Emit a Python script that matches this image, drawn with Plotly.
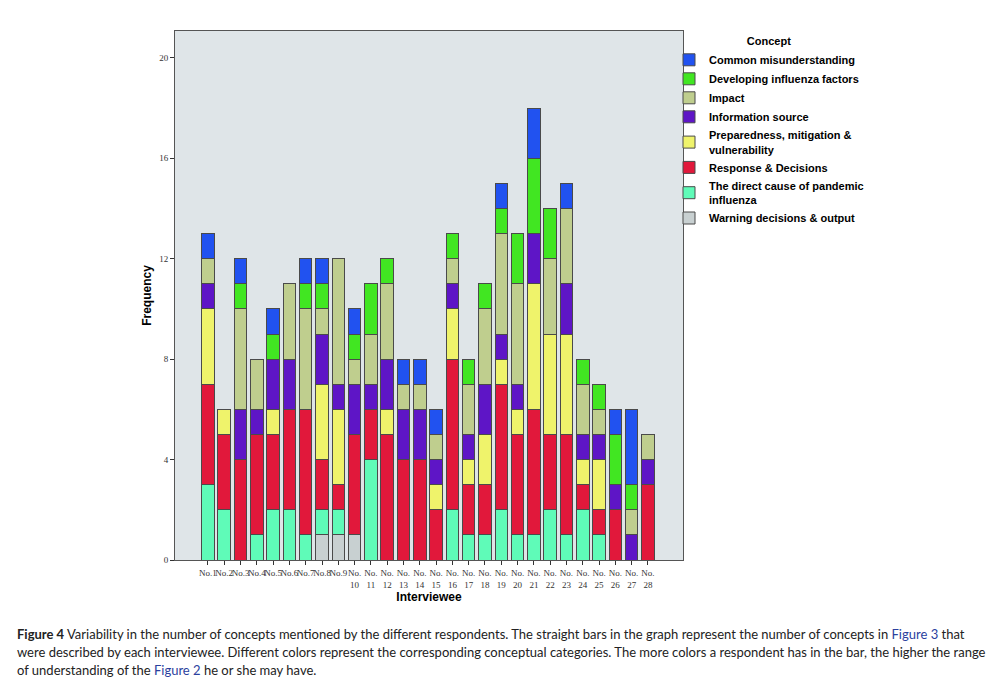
import plotly.graph_objects as go

interviewees = [f"No.{i}" for i in range(1, 29)]
tick_labels = ["No.1", "No.2", "No.3", "No.4", "No.5", "No.6", "No.7", "No.8", "No.9",
               "No.<br>10", "No.<br>11", "No.<br>12", "No.<br>13", "No.<br>14", "No.<br>15",
               "No.<br>16", "No.<br>17", "No.<br>18", "No.<br>19", "No.<br>20", "No.<br>21",
               "No.<br>22", "No.<br>23", "No.<br>24", "No.<br>25", "No.<br>26", "No.<br>27",
               "No.<br>28"]

# stacked from bottom to top
warning_decisions = [0, 0, 0, 0, 0, 0, 0, 1, 1, 1, 0, 0, 0, 0, 0, 0, 0, 0, 0, 0, 0, 0, 0, 0, 0, 0, 0, 0]
direct_cause = [3, 2, 0, 1, 2, 2, 1, 1, 1, 0, 4, 0, 0, 0, 0, 2, 1, 1, 2, 1, 1, 2, 1, 2, 1, 0, 0, 0]
response_decisions = [4, 3, 4, 4, 3, 4, 5, 2, 1, 4, 2, 5, 4, 4, 2, 6, 2, 2, 5, 4, 5, 3, 4, 1, 1, 2, 0, 3]
preparedness = [3, 1, 0, 0, 1, 0, 0, 3, 3, 0, 0, 1, 0, 0, 1, 2, 1, 2, 1, 1, 5, 4, 4, 1, 2, 0, 0, 0]
information_source = [1, 0, 2, 1, 2, 2, 0, 2, 1, 2, 1, 2, 2, 2, 1, 1, 1, 2, 1, 1, 2, 0, 2, 1, 1, 1, 1, 1]
impact = [1, 0, 4, 2, 0, 3, 4, 1, 5, 1, 2, 3, 1, 1, 1, 1, 2, 3, 4, 4, 0, 3, 3, 2, 1, 0, 1, 1]
developing_factors = [0, 0, 1, 0, 1, 0, 1, 1, 0, 1, 2, 1, 0, 0, 0, 1, 1, 1, 1, 2, 3, 2, 0, 1, 1, 2, 1, 0]
common_misunderstanding = [1, 0, 1, 0, 1, 0, 1, 1, 0, 1, 0, 0, 1, 1, 1, 0, 0, 0, 1, 0, 2, 0, 1, 0, 0, 1, 3, 0]

series_names = ["Warning decisions & output",
                "The direct cause of pandemic<br>influenza",
                "Response & Decisions",
                "Preparedness, mitigation &<br>vulnerability",
                "Information source",
                "Impact",
                "Developing influenza factors",
                "Common misunderstanding"]
series_values = [warning_decisions, direct_cause, response_decisions, preparedness,
                 information_source, impact, developing_factors, common_misunderstanding]
series_colors = ["#c8d0d1", "#5ffbb8", "#e1183b", "#eff36b",
                 "#5e15c6", "#bfce8e", "#41e622", "#2152f0"]

fig = go.Figure()
for name, vals, col in zip(series_names, series_values, series_colors):
    fig.add_trace(go.Bar(
        x=interviewees,
        y=[v if v else None for v in vals],
        name=name,
        marker=dict(color=col, line=dict(color="#4a4a4a", width=1)),
    ))

# page body has an 8px default margin, so the figure is sized 991x689
W, H = 991, 689
ML, MT, PW, PH = 167, 23, 508, 529

fig.update_layout(
    width=W, height=H,
    barmode="stack",
    bargap=0.23,
    paper_bgcolor="white",
    plot_bgcolor="#dfe5e8",
    margin=dict(l=ML, r=W - ML - PW, t=MT, b=H - MT - PH),
    showlegend=True,
    legend=dict(
        traceorder="reversed",
        x=1.0 - 14 / PW, xanchor="left", y=1.0, yanchor="top",
        bgcolor="rgba(0,0,0,0)",
        font=dict(family="Arial, Liberation Sans", size=11, color="black", weight="bold"),
        title=dict(text="Concept", side="top center",
                   font=dict(family="Arial, Liberation Sans", size=11, color="black", weight="bold")),
        tracegroupgap=0,
        itemwidth=30,
    ),
    xaxis=dict(
        type="category",
        tickmode="array",
        tickvals=interviewees,
        ticktext=tick_labels,
        range=[-2.02, 29.15],
        showline=True, linecolor="#555555", linewidth=1, mirror=True,
        ticks="outside", ticklen=4, tickcolor="#333333",
        tickfont=dict(family="Liberation Serif, Times New Roman", size=9, color="#333333"),
        tickangle=0,
        showgrid=False,
        title=dict(text="Interviewee", standoff=4,
                   font=dict(family="Arial, Liberation Sans", size=12, color="black", weight="bold")),
    ),
    yaxis=dict(
        range=[0, 21.07],
        tickvals=[0, 4, 8, 12, 16, 20],
        showline=True, linecolor="#555555", linewidth=1, mirror=True,
        ticks="outside", ticklen=4, tickcolor="#333333",
        tickfont=dict(family="Liberation Serif, Times New Roman", size=9, color="#333333"),
        showgrid=False, zeroline=False,
        title=dict(text="Frequency", standoff=5,
                   font=dict(family="Arial, Liberation Sans", size=12, color="black", weight="bold")),
    ),
)

caption_lines = [
    "<b>Figure 4</b> Variability in the number of concepts mentioned by the different respondents. "
    "The straight bars in the graph represent the number of concepts in "
    "<span style='color:#2b3f9e'>Figure 3</span> that",
    "were described by each interviewee. Different colors represent the corresponding conceptual "
    "categories. The more colors a respondent has in the bar, the higher the range",
    "of understanding of the <span style='color:#2b3f9e'>Figure 2</span> he or she may have.",
]
for i, line in enumerate(caption_lines):
    fig.add_annotation(
        text=line, xref="paper", yref="paper",
        x=(7 - ML) / PW, xanchor="left",
        y=(MT + PH - (626 + 18 * i)) / PH, yanchor="middle",
        showarrow=False, align="left",
        font=dict(family="Lato, Open Sans", size=13, color="#222222"),
    )

fig.write_html("out.html")
